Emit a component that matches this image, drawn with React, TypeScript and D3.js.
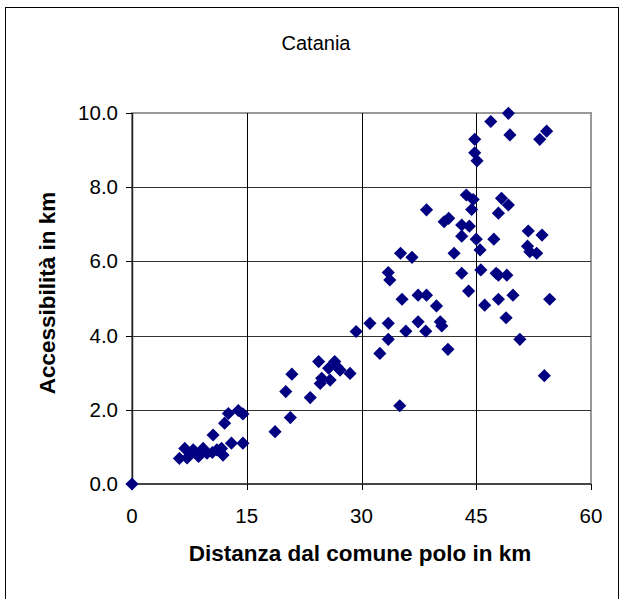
import React from 'react';
import * as d3 from 'd3';

// distanza dal comune polo (km)
const distanza = [
  0,
  6.2, 6.9, 7.2, 7.6, 8.0, 8.7, 9.3, 9.8, 10.5, 11.1, 11.7, 11.9,
  10.6, 12.1, 12.6, 13.9, 14.5, 13.0, 14.5, 18.7,
  20.7, 20.1, 20.9, 23.3, 24.4, 24.6, 24.8, 25.9, 25.7, 26.5, 26.8, 27.2, 28.5,
  29.3, 31.1, 32.4, 33.5, 33.5, 35.0, 35.8, 35.3, 37.4, 37.4, 38.5, 38.4,
  33.5, 33.7, 35.1, 36.6, 38.5,
  40.8, 41.4, 43.7, 44.6, 44.4, 43.1, 44.1, 43.1, 42.1, 45.0, 45.5, 43.1, 44.0,
  39.8, 40.3, 40.5, 41.3,
  44.8, 44.8, 45.1, 49.2, 46.9, 49.4, 54.2, 53.3,
  48.3, 49.2, 47.9, 47.3, 45.6, 47.6, 47.9, 49.0, 47.9, 49.8, 46.1, 48.9, 50.7,
  53.9, 54.6, 51.8, 53.6, 51.7, 52.0, 52.9,
];

// accessibilità (km)
const accessibilita = [
  0,
  0.69, 0.96, 0.70, 0.83, 0.92, 0.74, 0.96, 0.83, 0.85, 0.92, 0.96, 0.78,
  1.32, 1.64, 1.90, 1.98, 1.89, 1.10, 1.10, 1.41,
  1.79, 2.49, 2.96, 2.33, 3.30, 2.71, 2.85, 2.80, 3.12, 3.30, 3.16, 3.07, 2.98,
  4.11, 4.33, 3.52, 4.33, 3.90, 2.11, 4.12, 4.98, 4.37, 5.09, 5.09, 4.12,
  5.70, 5.50, 6.22, 6.11, 7.39,
  7.07, 7.16, 7.79, 7.67, 7.40, 6.98, 6.95, 6.68, 6.22, 6.60, 6.31, 5.68, 5.20,
  4.80, 4.37, 4.26, 3.63,
  9.29, 8.93, 8.71, 9.99, 9.77, 9.41, 9.51, 9.29,
  7.70, 7.52, 7.30, 6.60, 5.77, 5.68, 5.63, 5.63, 4.98, 5.09, 4.82, 4.48, 3.90,
  2.92, 4.98, 6.82, 6.71, 6.41, 6.26, 6.22,
];

const xTicks = [0, 15, 30, 45, 60];
const yTicks = [0, 2, 4, 6, 8, 10];

const W = 622;
const H = 599;
const plot = { left: 132, right: 591, top: 113, bottom: 484 };

const App: React.FC = () => {
  const x = d3.scaleLinear().domain([0, 60]).range([plot.left, plot.right]);
  const y = d3.scaleLinear().domain([0, 10]).range([plot.bottom, plot.top]);
  const diamond = d3.symbol().type(d3.symbolDiamond2).size(110)();
  const points = distanza.map((d, i) => ({ x: d, y: accessibilita[i] }));
  const font = '"Liberation Sans", Arial, sans-serif';

  return (
    <div style={{ position: 'absolute', left: 0, top: 0 }}>
      <svg width={W} height={H} style={{ display: 'block', background: '#fff' }}>
        {/* chart area border */}
        <rect x={5.5} y={7.5} width={613} height={620} fill="#fff" stroke="#000" strokeWidth={1} />

        <text x={316} y={50} textAnchor="middle" fontFamily={font} fontSize={20} fill="#000">
          Catania
        </text>

        {/* plot area */}
        <rect x={plot.left} y={plot.top} width={plot.right - plot.left} height={plot.bottom - plot.top}
          fill="#fff" stroke="#999" strokeWidth={2} />

        {/* gridlines */}
        {yTicks.slice(1, -1).map(t => (
          <line key={'gy' + t} x1={plot.left} x2={plot.right} y1={Math.round(y(t)) + 0.5} y2={Math.round(y(t)) + 0.5}
            stroke="#333" strokeWidth={1} />
        ))}
        {xTicks.slice(1, -1).map(t => (
          <line key={'gx' + t} x1={Math.round(x(t)) + 0.5} x2={Math.round(x(t)) + 0.5} y1={plot.top} y2={plot.bottom}
            stroke="#000" strokeWidth={1} />
        ))}

        {/* axes */}
        <line x1={plot.left + 0.5} x2={plot.left + 0.5} y1={plot.top} y2={plot.bottom} stroke="#222" strokeWidth={1.5} />
        <line x1={plot.left} x2={plot.right} y1={plot.bottom} y2={plot.bottom} stroke="#444" strokeWidth={2} />

        {yTicks.map(t => (
          <g key={'ty' + t}>
            <line x1={plot.left - 6} x2={plot.left} y1={Math.round(y(t)) + 0.5} y2={Math.round(y(t)) + 0.5} stroke="#000" />
            <text x={118} y={y(t) + 7} textAnchor="end" fontFamily={font} fontSize={20.5} fill="#000">
              {t.toFixed(1)}
            </text>
          </g>
        ))}
        {xTicks.map(t => (
          <g key={'tx' + t}>
            <line x1={Math.round(x(t)) + 0.5} x2={Math.round(x(t)) + 0.5} y1={plot.bottom} y2={plot.bottom + 6} stroke="#000" />
            <text x={x(t)} y={523} textAnchor="middle" fontFamily={font} fontSize={20.5} fill="#000">
              {t}
            </text>
          </g>
        ))}

        {/* points */}
        {points.map((p, i) => (
          <path key={i} d={diamond ?? ''} transform={`translate(${x(p.x)},${y(p.y)})`} fill="#000080" />
        ))}

        <text x={360} y={561} textAnchor="middle" fontFamily={font} fontSize={22.5} fontWeight="bold" fill="#000">
          Distanza dal comune polo in km
        </text>
        <text transform="translate(55,293) rotate(-90)" textAnchor="middle" fontFamily={font} fontSize={22.5}
          fontWeight="bold" fill="#000">
          Accessibilità in km
        </text>
      </svg>
    </div>
  );
};

export default App;
